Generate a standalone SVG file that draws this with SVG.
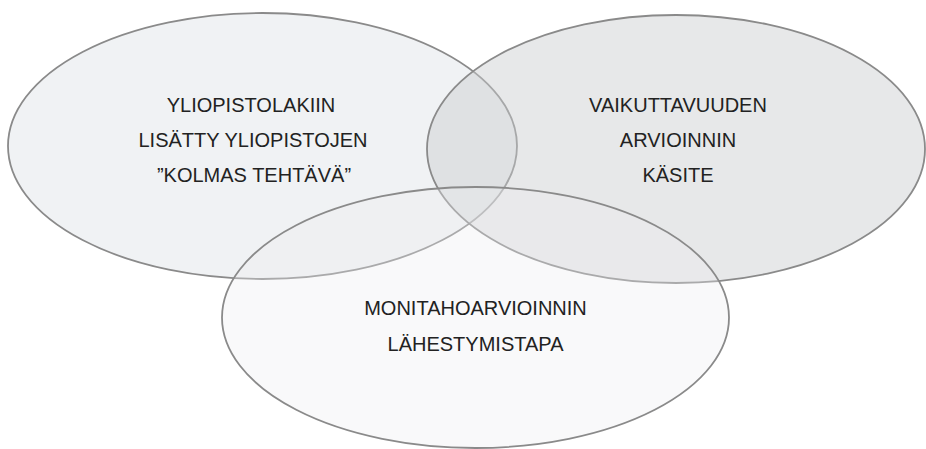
<svg xmlns="http://www.w3.org/2000/svg" width="926" height="449" viewBox="0 0 926 449">
<style>
.e{stroke:#8a8a8a;stroke-width:1.8}
.t{font-family:"Liberation Sans",Arial,Helvetica,sans-serif;font-size:20px;fill:#222;text-anchor:middle}
</style>
<rect width="926" height="449" fill="#ffffff"/>
<g id="node-yliopistolaki">
<ellipse class="e" cx="262.5" cy="146" rx="254.5" ry="133" fill="#e2e5e9" fill-opacity="0.5"/>
<text class="t" x="251" y="112">YLIOPISTOLAKIIN</text>
<text class="t" x="253" y="147">LISÄTTY YLIOPISTOJEN</text>
<text class="t" x="254" y="182">”KOLMAS TEHTÄVÄ”</text>
</g>
<g id="node-vaikuttavuus">
<ellipse class="e" cx="676" cy="149" rx="249" ry="134" fill="#c9cbcf" fill-opacity="0.45"/>
<text class="t" x="678" y="112">VAIKUTTAVUUDEN</text>
<text class="t" x="678" y="147">ARVIOINNIN</text>
<text class="t" x="678" y="182">KÄSITE</text>
</g>
<g id="node-monitaho">
<ellipse class="e" cx="475.5" cy="317.5" rx="253.5" ry="130.5" fill="#edeef0" fill-opacity="0.33"/>
<text class="t" x="475.5" y="315">MONITAHOARVIOINNIN</text>
<text class="t" x="475.5" y="351">LÄHESTYMISTAPA</text>
</g>
</svg>
